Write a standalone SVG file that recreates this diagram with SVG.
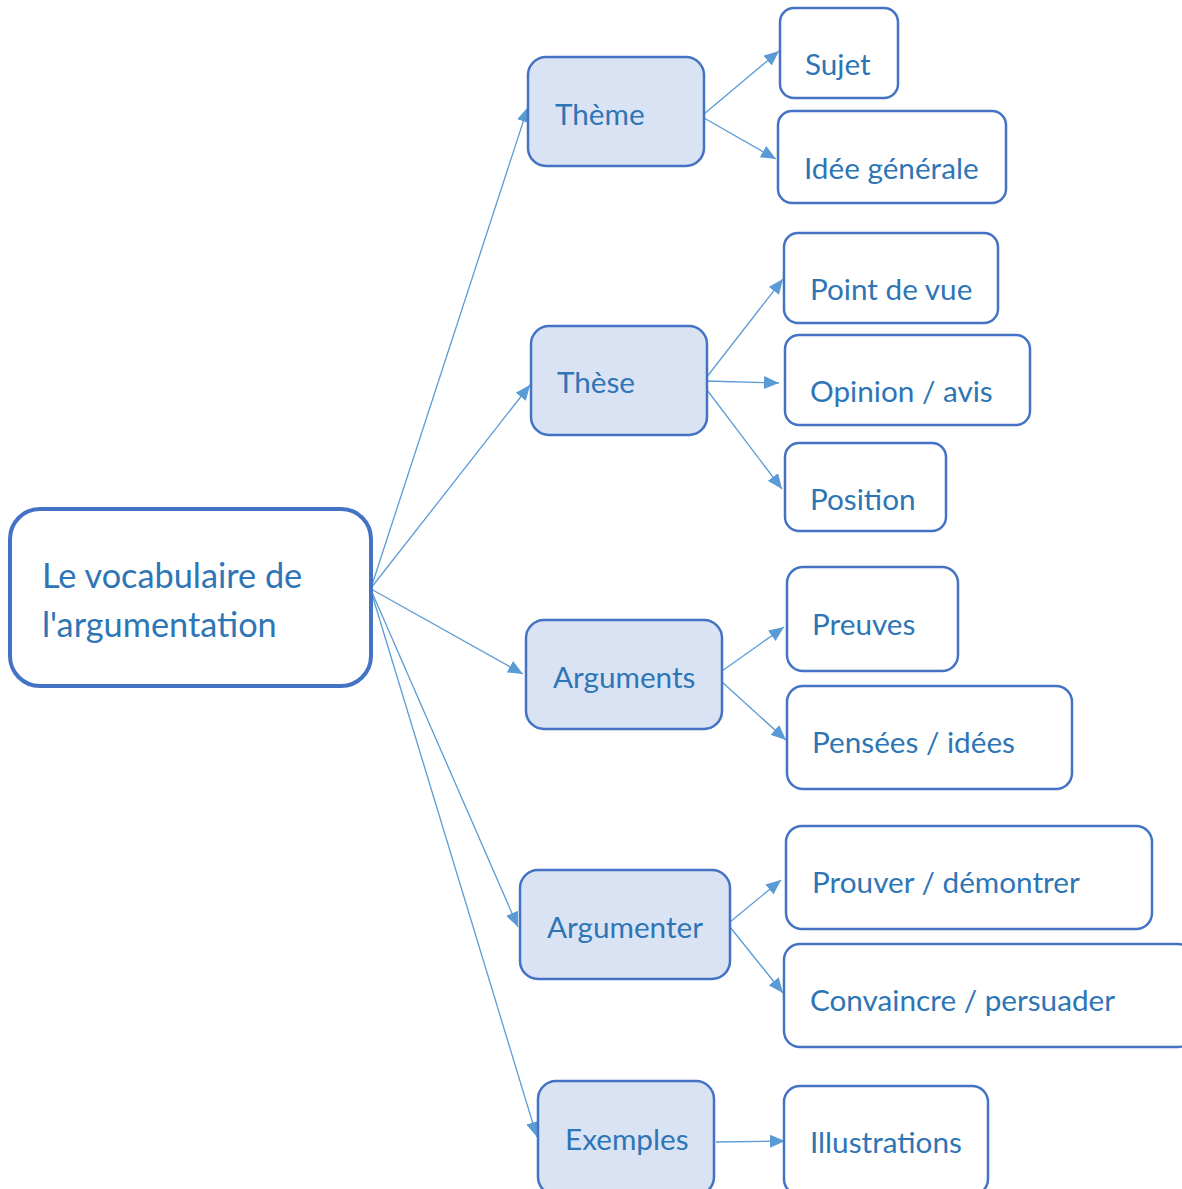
<svg xmlns="http://www.w3.org/2000/svg" width="1182" height="1189" viewBox="0 0 1182 1189">
<defs>
<marker id="ah" markerUnits="userSpaceOnUse" markerWidth="17" markerHeight="13" refX="15" refY="6.5" orient="auto">
<path d="M0,0 L15,6.5 L0,13 z" fill="#5B9BD5"/>
</marker>
<style>
.t{font-family:Lato,"Open Sans","Liberation Sans",sans-serif;fill:#2E75B6;font-size:29.7px}
.root rect{fill:#fff;stroke:#4472C4;stroke-width:4}
.l1 rect{fill:#DAE3F3;stroke:#4472C4;stroke-width:2.5}
.l2 rect{fill:#fff;stroke:#4472C4;stroke-width:2.5}
.c line{stroke:#5B9BD5;stroke-width:1.3;marker-end:url(#ah)}
</style>
</defs>
<rect width="1182" height="1189" fill="#fff"/>
<g class="c" id="connectors">
<line x1="371" y1="588" x2="528" y2="107"/>
<line x1="371" y1="588" x2="530" y2="385"/>
<line x1="371" y1="589" x2="523" y2="674"/>
<line x1="371" y1="590" x2="518" y2="927"/>
<line x1="371" y1="591" x2="537" y2="1137"/>
<line x1="704" y1="114" x2="779" y2="51"/>
<line x1="704" y1="118" x2="776" y2="159"/>
<line x1="706" y1="378" x2="783" y2="279"/>
<line x1="706" y1="381" x2="779" y2="383"/>
<line x1="704" y1="386" x2="782" y2="489"/>
<line x1="722" y1="671" x2="784" y2="627"/>
<line x1="722" y1="682" x2="786" y2="740"/>
<line x1="730" y1="922" x2="781" y2="880"/>
<line x1="730" y1="927" x2="783" y2="993"/>
<line x1="716" y1="1142" x2="785" y2="1141"/>
</g>
<g class="root" id="n-root"><rect x="10" y="509" width="361" height="177" rx="30"/>
<text class="t" x="42" y="588" style="font-size:34.3px">Le vocabulaire de</text>
<text class="t" x="42" y="637" style="font-size:34.3px">l'argumentation</text></g>
<g class="l1" id="n-theme"><rect x="528" y="57" width="176" height="109" rx="18"/><text class="t" x="555" y="125">Thème</text></g>
<g class="l1" id="n-these"><rect x="531" y="326" width="176" height="109" rx="18"/><text class="t" x="557" y="393">Thèse</text></g>
<g class="l1" id="n-arguments"><rect x="526" y="620" width="196" height="109" rx="18"/><text class="t" x="553" y="688">Arguments</text></g>
<g class="l1" id="n-argumenter"><rect x="520" y="870" width="210" height="109" rx="18"/><text class="t" x="547" y="938">Argumenter</text></g>
<g class="l1" id="n-exemples"><rect x="538" y="1081" width="176" height="114" rx="18"/><text class="t" x="565" y="1150">Exemples</text></g>
<g class="l2" id="n-sujet"><rect x="780" y="8" width="118" height="90" rx="14"/><text class="t" x="805" y="75">Sujet</text></g>
<g class="l2" id="n-idee"><rect x="778" y="111" width="228" height="92" rx="14"/><text class="t" x="804" y="179">Idée générale</text></g>
<g class="l2" id="n-pdv"><rect x="784" y="233" width="214" height="90" rx="14"/><text class="t" x="810" y="300">Point de vue</text></g>
<g class="l2" id="n-opinion"><rect x="785" y="335" width="245" height="90" rx="14"/><text class="t" x="810" y="402">Opinion / avis</text></g>
<g class="l2" id="n-position"><rect x="785" y="443" width="161" height="88" rx="14"/><text class="t" x="810" y="510">Position</text></g>
<g class="l2" id="n-preuves"><rect x="787" y="567" width="171" height="104" rx="16"/><text class="t" x="812" y="635">Preuves</text></g>
<g class="l2" id="n-pensees"><rect x="787" y="686" width="285" height="103" rx="16"/><text class="t" x="812" y="753">Pensées / idées</text></g>
<g class="l2" id="n-prouver"><rect x="786" y="826" width="366" height="103" rx="16"/><text class="t" x="812" y="893">Prouver / démontrer</text></g>
<g class="l2" id="n-convaincre"><rect x="784" y="944" width="410" height="103" rx="16"/><text class="t" x="810" y="1011">Convaincre / persuader</text></g>
<g class="l2" id="n-illustrations"><rect x="784" y="1086" width="204" height="109" rx="16"/><text class="t" x="810" y="1153">Illustrations</text></g>
</svg>
